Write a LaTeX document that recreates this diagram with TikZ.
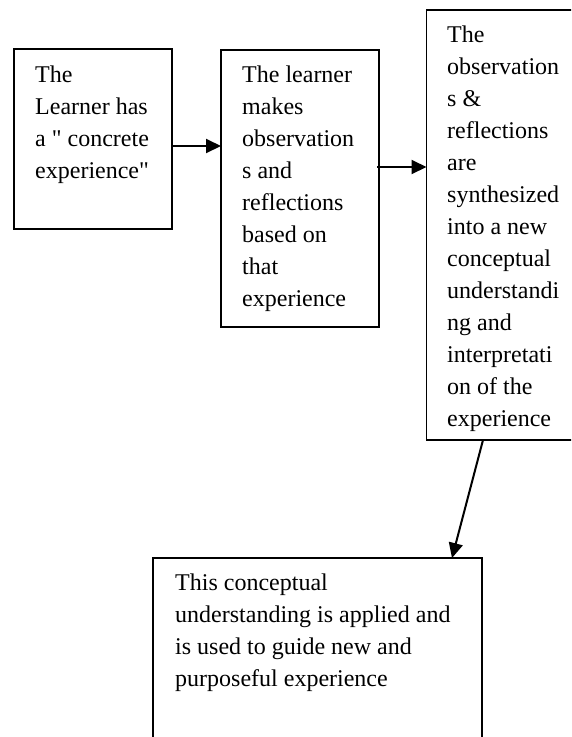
\documentclass[tikz,border=0pt]{standalone}
\usepackage{fontspec}
\setmainfont{Liberation Serif}[Ligatures=TeXOff]
\usetikzlibrary{arrows.meta,calc}
\begin{document}
\begin{tikzpicture}[x=1pt,y=-1pt,
  box/.style={draw, line width=1.5pt, inner sep=0pt, outer sep=0pt, anchor=north west},
  txt/.style={anchor=north west, inner sep=0pt, align=left, font=\fontsize{24}{32}\selectfont},
  arr/.style={line width=2pt, -{Triangle[length=15pt,width=14pt]}}]
\useasboundingbox (0,0) rectangle (571,737);
\clip (0,0) rectangle (571,737);
% boxes
\node[box, minimum width=158pt, minimum height=180pt] (b1) at (14,49) {};
\node[box, minimum width=158pt, minimum height=277pt] (b2) at (221,50) {};
\node[box, minimum width=160pt, minimum height=430pt] (b3) at (426.5,10) {};
\node[box, minimum width=329pt, minimum height=200pt] (b4) at (153,558) {};
% texts
\node[txt] (t1) at ($(b1.north west)+(21,10.5)$) {\strut The\\Learner has\\a " concrete\\experience"};
\node[txt] (t2) at ($(b2.north west)+(21,9.5)$) {\strut The learner\\makes\\observation\\s and\\reflections\\based on\\that\\experience};
\node[txt] (t3) at ($(b3.north west)+(20.5,9.6)$) {\strut The\\observation\\s \&\\reflections\\are\\synthesized\\into a new\\conceptual\\understandi\\ng and\\interpretati\\on of the\\experience};
\node[txt] (t4) at ($(b4.north west)+(22,9.6)$) {\strut This conceptual\\understanding is applied and\\is used to guide new and\\purposeful experience};
% connectors
\draw[arr] (b1.east |- 0,146) -- (b2.west |- 0,146);
\draw[arr] ([xshift=-2pt]b2.east |- 0,167) -- (b3.west |- 0,167);
\draw[arr] (b3.south -| 483,0) -- (b4.north -| 452,0);
\end{tikzpicture}
\end{document}
